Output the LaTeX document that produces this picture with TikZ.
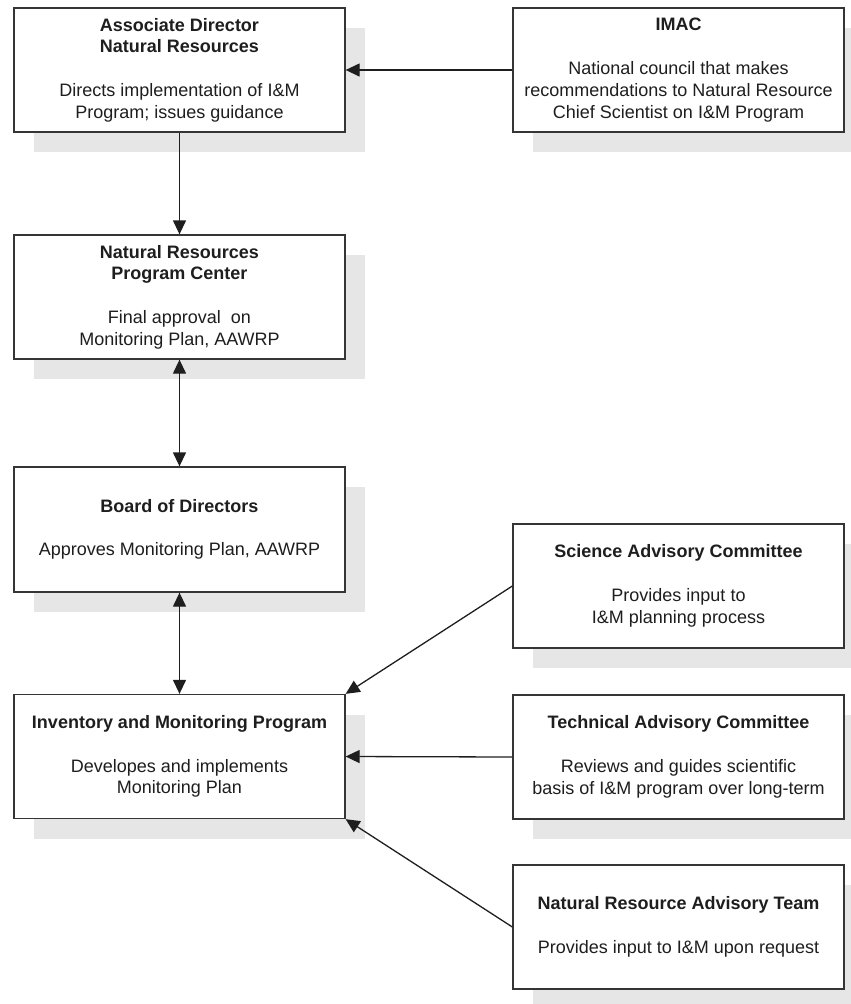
\documentclass[tikz,border=0pt]{standalone}
\usepackage{fontspec}
\setmainfont{Liberation Sans}
\usetikzlibrary{arrows.meta,shadows}
\definecolor{shade}{HTML}{E6E6E6}
\definecolor{ink}{HTML}{1E1E1E}
\begin{document}
\begin{tikzpicture}[x=1pt,y=-1pt,
  orgbox/.style={draw=ink!90, line width=1.3pt, fill=white, text=ink,
    minimum width=331pt, minimum height=124pt, align=center, inner sep=0pt,
    font=\fontsize{18}{21.8}\selectfont,
    general shadow={shadow xshift=20pt, shadow yshift=-20pt, fill=shade, draw=none, opacity=1}},
  link/.style={draw=ink, line width=1.3pt, -{Triangle[length=14pt,width=13pt]}},
  dlink/.style={draw=ink, line width=1.3pt, {Triangle[length=14pt,width=13pt]}-{Triangle[length=14pt,width=13pt]}}
]
\useasboundingbox (0,0) rectangle (851,1004);
\clip (0,0) rectangle (851,1004);

% left column
\node[orgbox] (ad) at (179.5,70) {\textbf{Associate Director}\\\textbf{Natural Resources}\\[21.8pt]Directs implementation of I\&M\\Program; issues guidance};
\node[orgbox] (nrpc) at (179.5,297) {\textbf{Natural Resources}\\\textbf{Program Center}\\[21.8pt]Final approval\ \ on\\Monitoring Plan, AAWRP};
\node[orgbox, minimum height=125pt] (bod) at (179.5,529.5) {\textbf{Board of Directors}\\[21.8pt]Approves Monitoring Plan, AAWRP};
\node[orgbox] (imp) at (179.5,756.5) {\textbf{Inventory and Monitoring Program}\\[21.8pt]Developes and implements\\Monitoring Plan};

% right column
\node[orgbox] (imac) at (678.5,70) {\textbf{IMAC}\\[21.8pt]National council that makes\\recommendations to Natural Resource\\Chief Scientist on I\&M Program};
\node[orgbox] (sac) at (678.5,586) {\textbf{Science Advisory Committee}\\[21.8pt]Provides input to\\I\&M planning process};
\node[orgbox] (tac) at (678.5,757) {\textbf{Technical Advisory Committee}\\[21.8pt]Reviews and guides scientific\\basis of I\&M program over long-term};
\node[orgbox] (nrat) at (678.5,927) {\textbf{Natural Resource Advisory Team}\\[21.8pt]Provides input to I\&M upon request};

% connectors
\draw[link] (imac.west) -- (ad.east);
\draw[link] (ad.south) -- (nrpc.north);
\draw[dlink] (nrpc.south) -- (bod.north);
\draw[dlink] (bod.south) -- (imp.north);
\draw[link] (sac.west) -- (imp.north east);
\draw[link] (tac.west) -- (imp.east);
\draw[link] (nrat.west) -- (imp.south east);
\end{tikzpicture}
\end{document}
